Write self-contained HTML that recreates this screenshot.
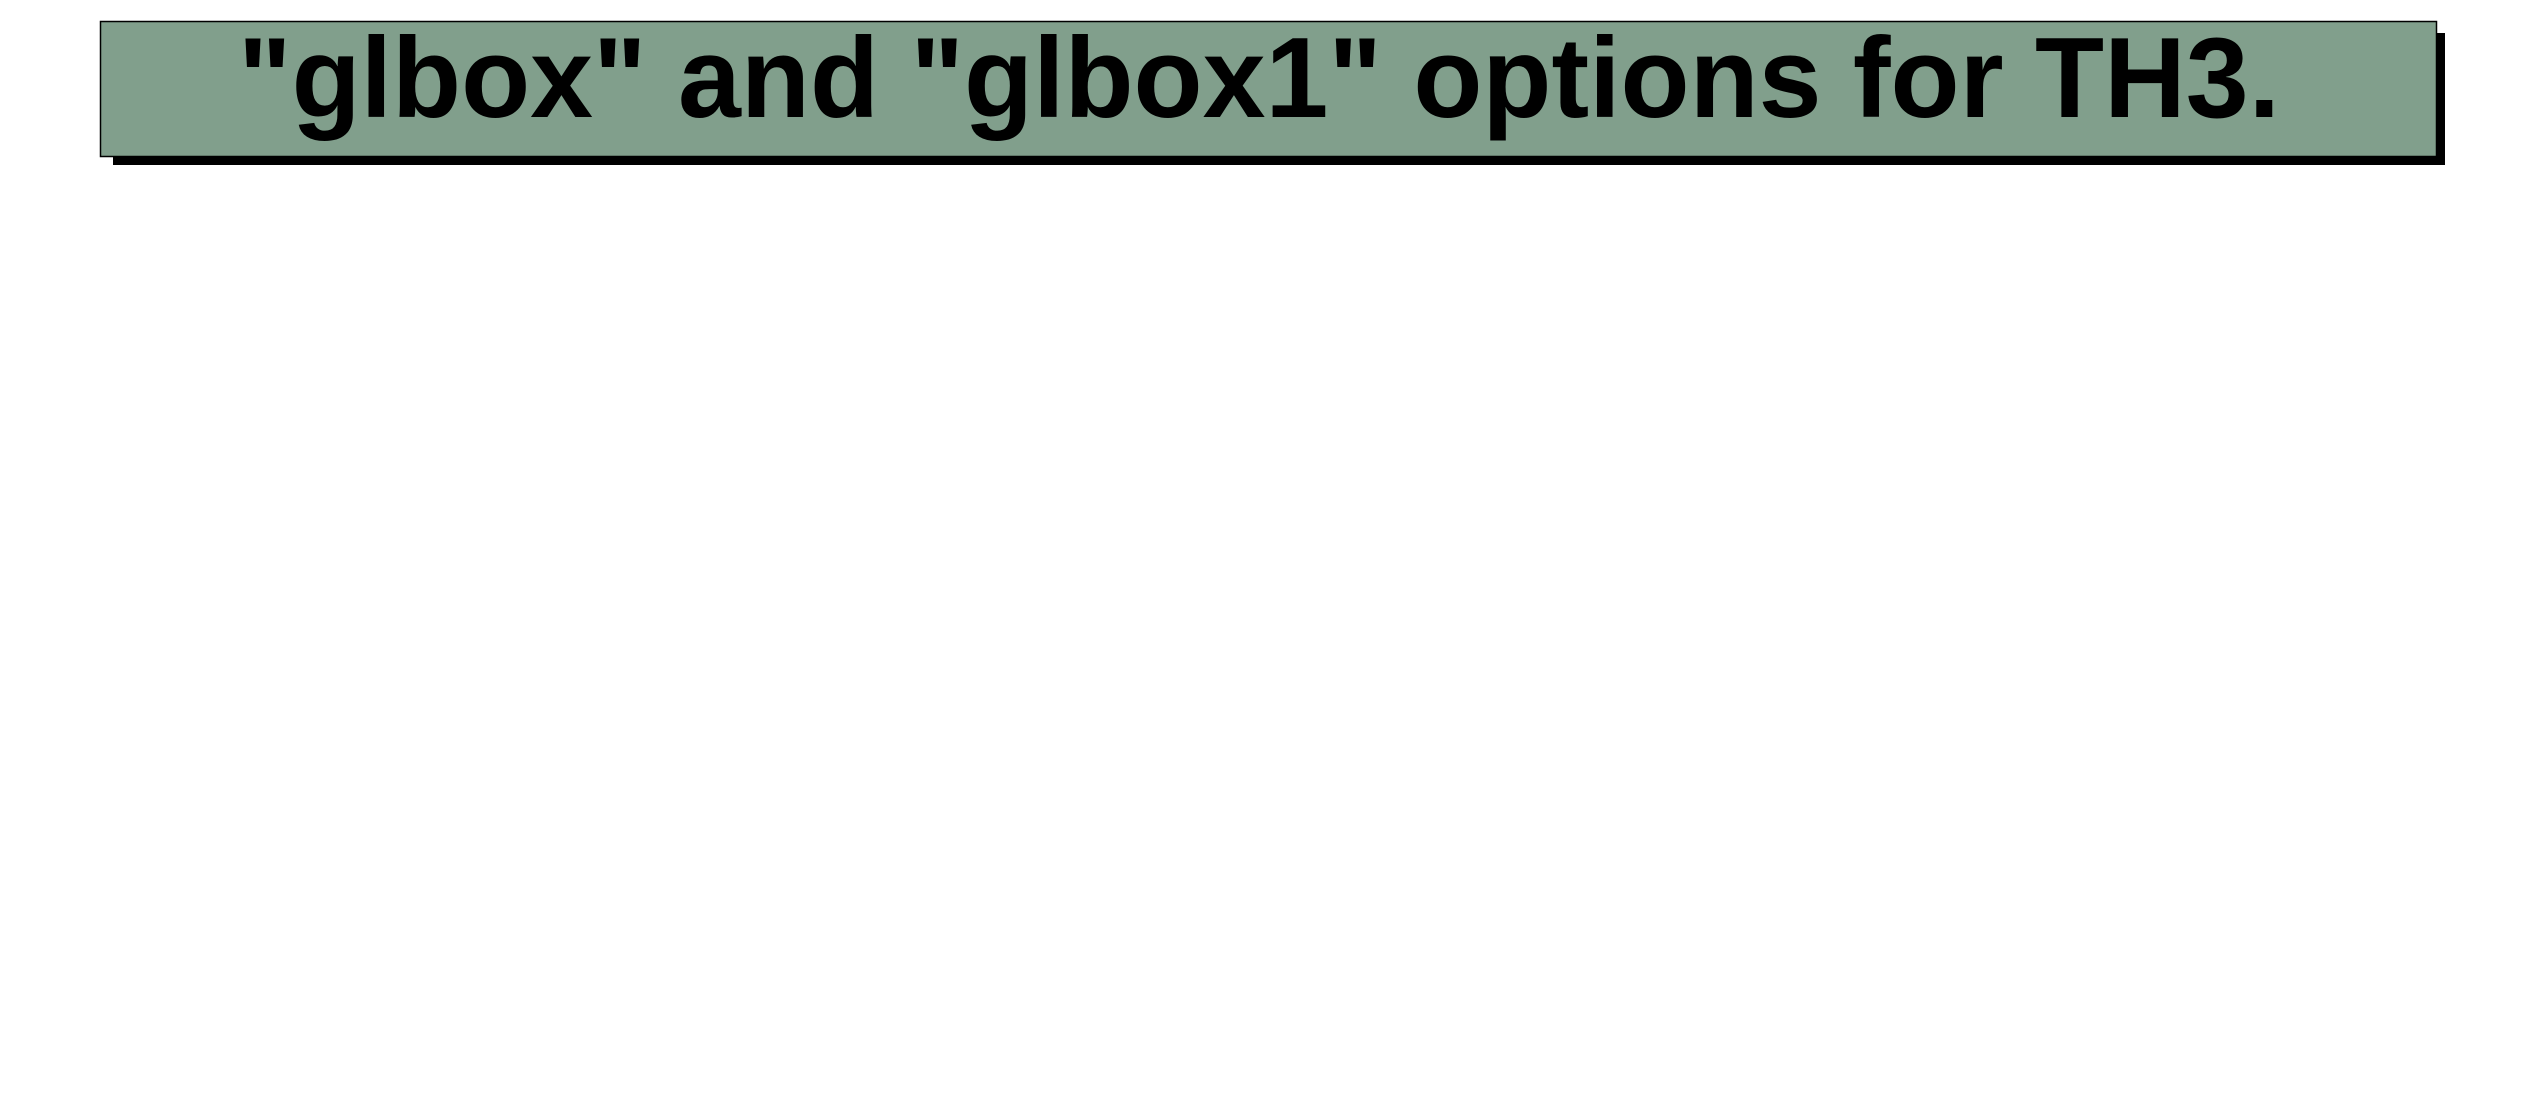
<!DOCTYPE html>
<html><head><style>html,body{margin:0;padding:0;background:#fff;width:2538px;height:1116px;overflow:hidden}</style></head>
<body>
<svg width="2538" height="1116" xmlns="http://www.w3.org/2000/svg">
<rect x="113" y="33" width="2332" height="132" fill="#000"/>
<rect x="100.5" y="21.5" width="2336" height="135" fill="#819f8c" stroke="#000" stroke-width="1.5"/>
<text x="238" y="117" font-family="Liberation Sans, sans-serif" font-weight="bold" font-size="114" textLength="2042" lengthAdjust="spacingAndGlyphs" fill="#000">"glbox" and "glbox1" options for TH3.</text>
</svg>
</body></html>
